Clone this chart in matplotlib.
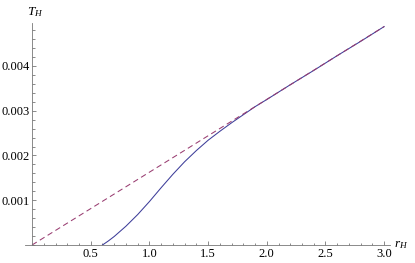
import numpy as np
import matplotlib
matplotlib.use("Agg")
import matplotlib.pyplot as plt
from matplotlib.ticker import MultipleLocator, FuncFormatter

### ========== DATA ========== ###
# full curve T_H(r_H)
r_curve = [0.60, 0.65, 0.70, 0.80, 0.90, 1.00, 1.10, 1.20, 1.30, 1.40, 1.50,
           1.60, 1.70, 1.80, 1.90, 2.00, 2.20, 2.40, 2.60, 2.80, 3.00]
T_curve = [0.0, 0.00009, 0.00019, 0.00042, 0.00068, 0.00097, 0.00128, 0.00158,
           0.00186, 0.00211, 0.00234, 0.00254, 0.00273, 0.00291, 0.00309,
           0.00325, 0.00358, 0.00390, 0.00423, 0.00455, 0.00488]

# large r_H asymptote (dashed)
r_asym = [0.0, 3.0]
T_asym = [0.0, 0.00488]

x_ticks = [0.5, 1.0, 1.5, 2.0, 2.5, 3.0]
y_ticks = [0.001, 0.002, 0.003, 0.004]

### ========== PLOT ========== ###
plt.rcParams['font.family'] = ['Liberation Serif', 'DejaVu Serif']
plt.rcParams['mathtext.fontset'] = 'custom'
plt.rcParams['mathtext.rm'] = 'Liberation Serif'
plt.rcParams['mathtext.it'] = 'Liberation Serif:italic'
plt.rcParams['lines.scale_dashes'] = False

fig = plt.figure(figsize=(4.15, 2.63), dpi=100)
ax = fig.add_axes([25/415, 18/263, 365/415, 222/263])

ax.plot(r_curve, T_curve, color='#3d3d99', lw=0.75)
dashed, = ax.plot(r_asym, T_asym, color='#993d71', lw=0.75)
dashed.set_dashes([4.0, 2.6])

ax.set_xlim(-0.06, 3.05)
ax.set_ylim(0, 0.00496)

# mathematica style axes through the origin
axis_col = '#777777'
for side in ['top', 'right']:
    ax.spines[side].set_visible(False)
ax.spines['left'].set_position(('data', 0))
ax.spines['bottom'].set_position(('data', 0))
for side in ['left', 'bottom']:
    ax.spines[side].set_color(axis_col)
    ax.spines[side].set_linewidth(0.6)

ax.xaxis.set_minor_locator(MultipleLocator(0.1))
ax.yaxis.set_minor_locator(MultipleLocator(0.0002))
ax.set_xticks(x_ticks)
ax.set_yticks(y_ticks)
ax.xaxis.set_major_formatter(FuncFormatter(lambda v, p: f"{v:.1f}"))
ax.yaxis.set_major_formatter(FuncFormatter(lambda v, p: f"{v:.3f}"))

ax.tick_params(which='both', direction='in', color=axis_col, width=0.6,
               labelsize=9, labelcolor='black', pad=2)
ax.tick_params(which='major', length=3.2)
ax.tick_params(which='minor', length=1.8)

ax.text(0.005, 1.05, r"$T_H$", transform=ax.transAxes, ha='left', va='center',
        fontsize=9.5)
ax.text(1.01, 0.0, r"$r_H$", transform=ax.transAxes, ha='left', va='center',
        fontsize=9.5)

fig.savefig("out.png", dpi=100)
